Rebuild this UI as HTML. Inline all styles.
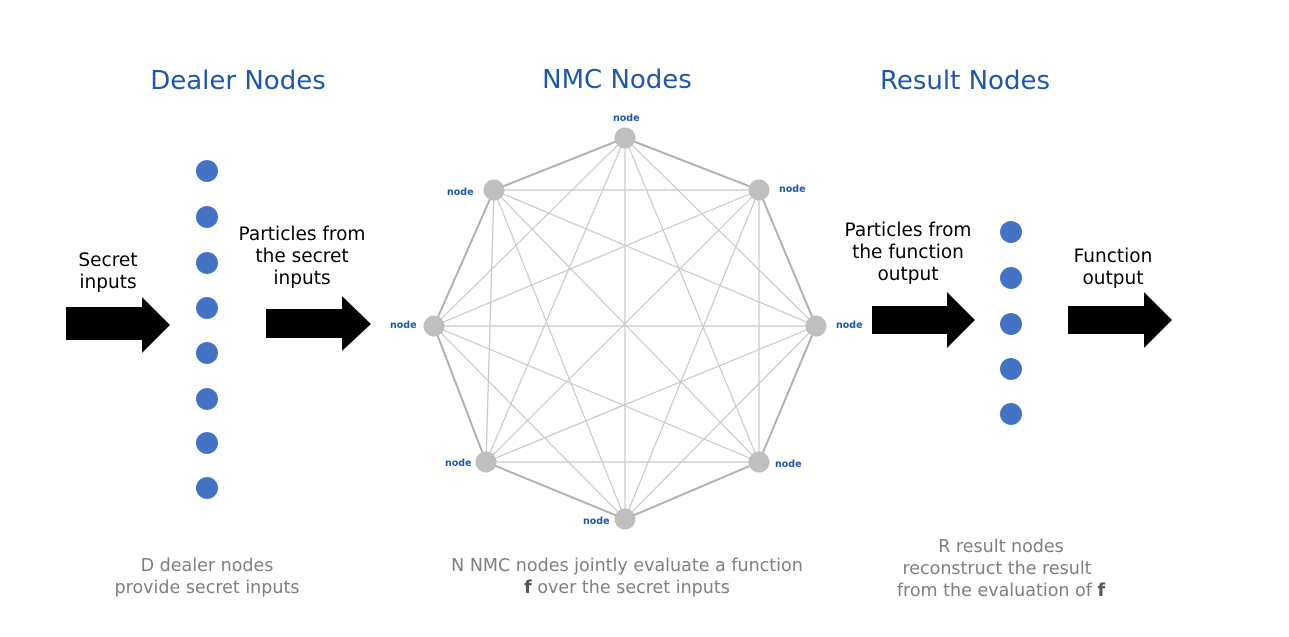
<!DOCTYPE html>
<html><head><meta charset="utf-8"><style>
body{margin:0;background:#fff;}
svg text{font-family:"DejaVu Sans","Liberation Sans",sans-serif;}
</style></head><body>
<svg width="1289" height="632" viewBox="0 0 1289 632" xmlns="http://www.w3.org/2000/svg">
<rect width="1289" height="632" fill="#fff"/>
<g fill="#1f58a8" font-size="26" text-anchor="middle">
<text x="238" y="89">Dealer Nodes</text>
<text x="617" y="88">NMC Nodes</text>
<text x="965" y="89">Result Nodes</text>
</g>
<g fill="#000" font-size="18.5" text-anchor="middle">
<text x="108" y="266">Secret</text><text x="108" y="288">inputs</text>
<text x="302" y="240">Particles from</text><text x="302" y="262">the secret</text><text x="302" y="284">inputs</text>
<text x="908" y="236">Particles from</text><text x="908" y="258">the function</text><text x="908" y="280">output</text>
<text x="1113" y="262">Function</text><text x="1113" y="284">output</text>
</g>
<g fill="#000">
<polygon points="66,307 142,307 142,297 170,325 142,353 142,340 66,340"/>
<polygon points="266,309 342,309 342,296 371,324 342,351 342,338 266,338"/>
<polygon points="872,306 947,306 947,292 975,320 947,348 947,334 872,334"/>
<polygon points="1068,306 1144,306 1144,292 1172,320 1144,348 1144,334 1068,334"/>
</g>
<g fill="#4472c4">
<circle cx="207" cy="171" r="11"/><circle cx="207" cy="217" r="11"/><circle cx="207" cy="263" r="11"/><circle cx="207" cy="308" r="11"/><circle cx="207" cy="353" r="11"/><circle cx="207" cy="399" r="11"/><circle cx="207" cy="443" r="11"/><circle cx="207" cy="488" r="11"/>
<circle cx="1011" cy="232" r="11"/><circle cx="1011" cy="278" r="11"/><circle cx="1011" cy="324" r="11"/><circle cx="1011" cy="369" r="11"/><circle cx="1011" cy="414" r="11"/>
</g>
<g stroke="#c8c8c8" stroke-width="1.2">
<line x1="625" y1="138" x2="759" y2="462"/><line x1="625" y1="138" x2="625" y2="519"/><line x1="625" y1="138" x2="486" y2="462"/><line x1="625" y1="138" x2="434" y2="326"/><line x1="625" y1="138" x2="816" y2="326"/>
<line x1="494" y1="190" x2="759" y2="190"/><line x1="494" y1="190" x2="816" y2="326"/><line x1="494" y1="190" x2="759" y2="462"/><line x1="494" y1="190" x2="625" y2="519"/><line x1="494" y1="190" x2="486" y2="462"/>
<line x1="759" y1="190" x2="434" y2="326"/><line x1="759" y1="190" x2="486" y2="462"/><line x1="759" y1="190" x2="625" y2="519"/><line x1="759" y1="190" x2="759" y2="462"/>
<line x1="434" y1="326" x2="816" y2="326"/><line x1="434" y1="326" x2="759" y2="462"/><line x1="434" y1="326" x2="625" y2="519"/>
<line x1="816" y1="326" x2="486" y2="462"/><line x1="816" y1="326" x2="625" y2="519"/>
<line x1="486" y1="462" x2="759" y2="462"/>
</g>
<polygon points="625,138 759,190 816,326 759,462 625,519 486,462 434,326 494,190" fill="none" stroke="#b0b0b0" stroke-width="2"/>
<g fill="#bfbfbf">
<circle cx="625" cy="138" r="10.5"/><circle cx="494" cy="190" r="10.5"/><circle cx="759" cy="190" r="10.5"/><circle cx="434" cy="326" r="10.5"/><circle cx="816" cy="326" r="10.5"/><circle cx="486" cy="462" r="10.5"/><circle cx="759" cy="462" r="10.5"/><circle cx="625" cy="519" r="10.5"/>
</g>
<g fill="#1f58a8" font-size="9.5" font-weight="bold">
<text x="613" y="121">node</text><text x="447" y="195">node</text><text x="779" y="192">node</text><text x="390" y="328">node</text><text x="836" y="328">node</text><text x="445" y="466">node</text><text x="775" y="467">node</text><text x="583" y="524">node</text>
</g>
<g fill="#7f7f7f" font-size="17.5" text-anchor="middle">
<text x="207" y="571">D dealer nodes</text><text x="207" y="593">provide secret inputs</text>
<text x="627" y="571">N NMC nodes jointly evaluate a function</text><text x="627" y="593"><tspan font-weight="bold" fill="#555">f</tspan> over the secret inputs</text>
<text x="1001" y="552">R result nodes</text><text x="997" y="574">reconstruct the result</text><text x="1001" y="596">from the evaluation of <tspan font-weight="bold" fill="#555">f</tspan></text>
</g>
</svg>
</body></html>
